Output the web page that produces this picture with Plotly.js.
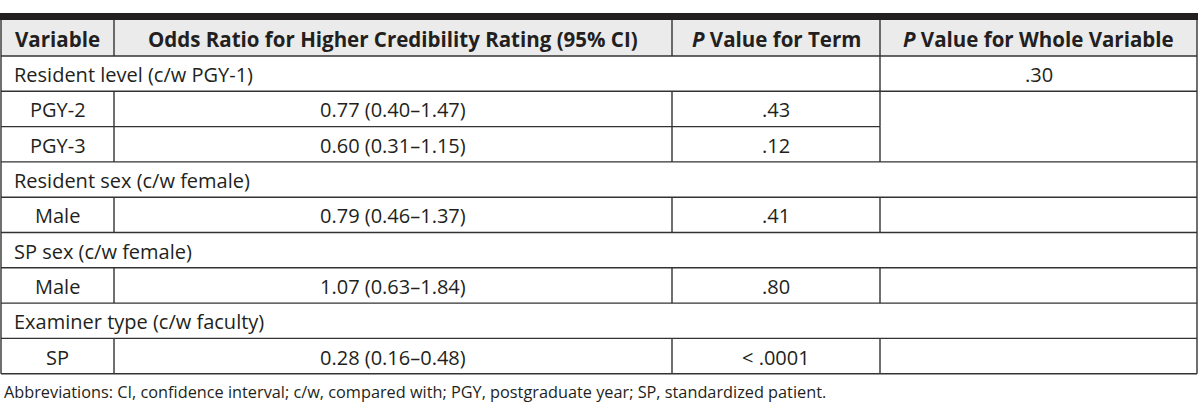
<!DOCTYPE html>
<html>
<head>
<meta charset="utf-8">
<script src="https://cdn.plot.ly/plotly-3.0.1.min.js"></script>
<style>
  html, body { margin: 0; padding: 0; background: #fff; }
  #table-plot { width: 1200px; height: 417px; }
</style>
</head>
<body>
<div id="table-plot"></div>
<script>
// table content
var headers = ["Variable", "Odds Ratio for Higher Credibility Rating (95% CI)", "<i>P</i> Value for Term", "<i>P</i> Value for Whole Variable"];
var groups = ["Resident level (c/w PGY-1)", "Resident sex (c/w female)", "SP sex (c/w female)", "Examiner type (c/w faculty)"];
var groupP = [".30", "", "", ""];
var termGroup = [0, 0, 1, 2, 3];
var termLabels = ["PGY-2", "PGY-3", "Male", "Male", "SP"];
var oddsRatio = [0.77, 0.60, 0.79, 1.07, 0.28];
var ciLow = [0.40, 0.31, 0.46, 0.63, 0.16];
var ciHigh = [1.47, 1.15, 1.37, 1.84, 0.48];
var pTerm = [".43", ".12", ".41", ".80", "< .0001"];
var footnote = "Abbreviations: CI, confidence interval; c/w, compared with; PGY, postgraduate year; SP, standardized patient.";

// geometry (pixels, y down)
var colX = [1, 114, 672, 880, 1197];
var barTop = 13, headTop = 20, bodyTop = 56, rowH = 35.3;
var lineCol = "#333";
var txtCol = "#231f20";
var fontFam = "'Open Sans', 'Noto Sans', sans-serif";
var bodySize = 20, headSize = 20.5, noteSize = 16.3;

// build row list: group row then its term rows
var rows = [];
groups.forEach(function (g, gi) {
  rows.push({type: "group", gi: gi});
  termGroup.forEach(function (tg, ti) {
    if (tg === gi) rows.push({type: "term", gi: gi, ti: ti});
  });
});
var bodyBottom = bodyTop + rows.length * rowH;

var shapes = [];
var annotations = [];

function hline(x0, x1, y) {
  shapes.push({type: "line", xref: "x", yref: "y", x0: x0, x1: x1, y0: y, y1: y, line: {color: lineCol, width: 1.4}});
}
function vline(x, y0, y1) {
  shapes.push({type: "line", xref: "x", yref: "y", x0: x, x1: x, y0: y0, y1: y1, line: {color: lineCol, width: 1.4}});
}
function label(text, x, y, align, bold, size) {
  annotations.push({
    xref: "x", yref: "y", x: x, y: y, text: bold ? "<b>" + text + "</b>" : text,
    showarrow: false, xanchor: align, yanchor: "middle",
    font: {family: fontFam, size: size || bodySize, color: txtCol}
  });
}

// header band
shapes.push({type: "rect", xref: "x", yref: "y", x0: colX[0], x1: colX[4], y0: headTop, y1: bodyTop,
  fillcolor: "#ebebeb", line: {width: 0}, layer: "below"});
shapes.push({type: "rect", xref: "x", yref: "y", x0: 0, x1: colX[4] + 1, y0: barTop, y1: headTop,
  fillcolor: "#231f20", line: {width: 0}});
headers.forEach(function (h, i) {
  label(h, (colX[i] + colX[i + 1]) / 2, (headTop + bodyTop) / 2 + 1, "center", true, headSize);
  if (i > 0) vline(colX[i], headTop, bodyTop);
});
hline(colX[0], colX[4], bodyTop);

// body rows
rows.forEach(function (r, k) {
  var y0 = bodyTop + k * rowH, y1 = y0 + rowH, ym = (y0 + y1) / 2 + 1;
  var next = rows[k + 1];
  if (r.type === "group") {
    label(groups[r.gi], colX[0] + 11, ym, "left", false);
    if (groupP[r.gi]) {
      vline(colX[3], y0, y1);
      label(groupP[r.gi], (colX[3] + colX[4]) / 2, ym, "center", false);
    }
  } else {
    var ti = r.ti;
    label(termLabels[ti], (colX[0] + colX[1]) / 2, ym, "center", false);
    label(oddsRatio[ti].toFixed(2) + " (" + ciLow[ti].toFixed(2) + "–" + ciHigh[ti].toFixed(2) + ")",
      (colX[1] + colX[2]) / 2, ym, "center", false);
    label(pTerm[ti], (colX[2] + colX[3]) / 2, ym, "center", false);
    vline(colX[1], y0, y1);
    vline(colX[2], y0, y1);
    vline(colX[3], y0, y1);
  }
  // bottom line of the row; the whole-variable column stays open inside a group with a P value
  var merged = next && next.type === "term" && next.gi === r.gi && groupP[r.gi] && r.type === "term";
  hline(colX[0], merged ? colX[3] : colX[4], y1);
});

vline(colX[0], headTop, bodyBottom);
vline(colX[4], headTop, bodyBottom);

// footnote
annotations.push({
  xref: "x", yref: "y", x: 2, y: bodyBottom + 18, text: footnote, showarrow: false,
  xanchor: "left", yanchor: "middle", font: {family: fontFam, size: noteSize, color: txtCol}
});

var layout = {
  width: 1200, height: 417,
  margin: {l: 0, r: 0, t: 0, b: 0},
  paper_bgcolor: "#fff", plot_bgcolor: "#fff",
  xaxis: {range: [0, 1200], visible: false, fixedrange: true},
  yaxis: {range: [417, 0], visible: false, fixedrange: true},
  shapes: shapes,
  annotations: annotations,
  showlegend: false
};

Plotly.newPlot("table-plot", [{x: [], y: [], type: "scatter"}], layout, {displayModeBar: false, staticPlot: true});
</script>
</body>
</html>
